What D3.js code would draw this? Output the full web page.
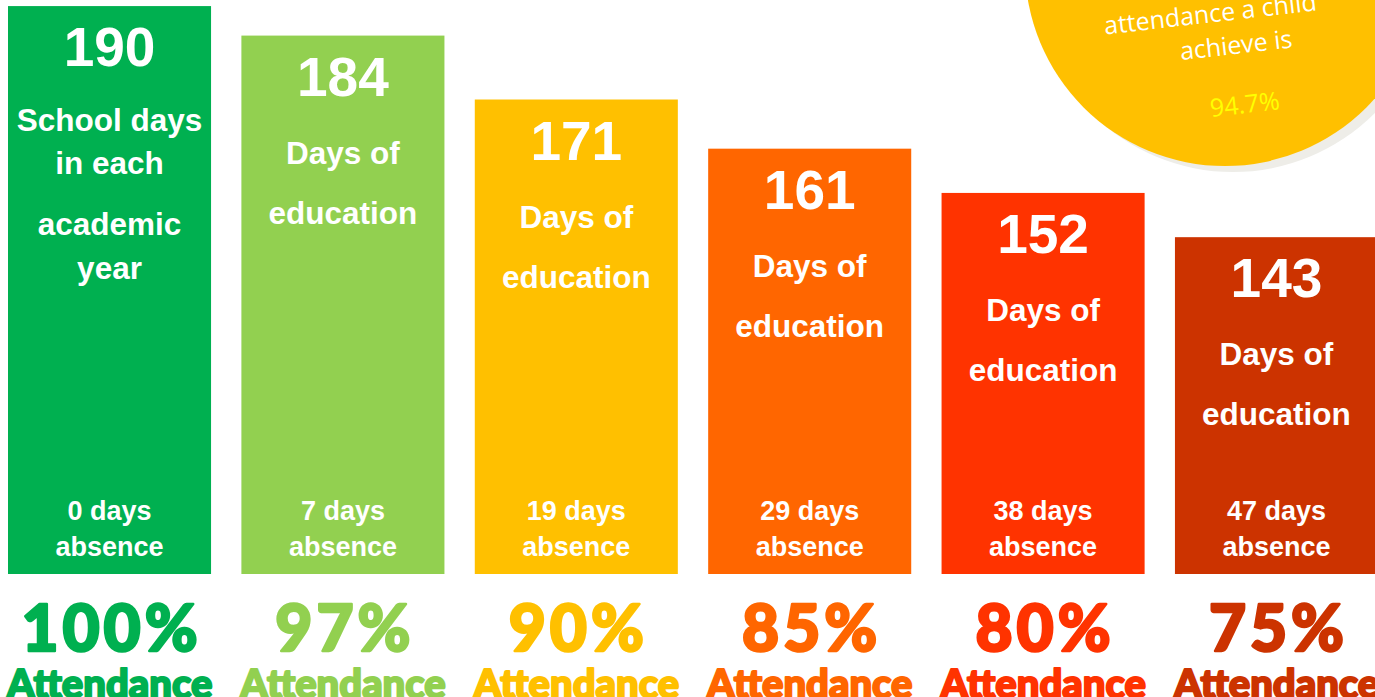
<!DOCTYPE html>
<html>
<head>
<meta charset="utf-8">
<script src="https://cdn.jsdelivr.net/npm/d3@7"></script>
<style>
  html, body { margin: 0; padding: 0; background: #ffffff; overflow: hidden; }
  svg { display: block; }
</style>
</head>
<body>
<svg id="chart" width="1375" height="697"></svg>
<script>
// ---- data ----
const attendance = ["100%", "97%", "90%", "85%", "80%", "75%"];
const educationDays = [190, 184, 171, 161, 152, 143];
const absenceDays = [0, 7, 19, 29, 38, 47];
const barCaptions = [
  ["School days", "in each", "academic", "year"],
  ["Days of", "education"],
  ["Days of", "education"],
  ["Days of", "education"],
  ["Days of", "education"],
  ["Days of", "education"]
];
const barColors = ["#00B050", "#92D050", "#FFC000", "#FF6600", "#FF3300", "#CC3300"];
const calloutLines = ["attendance a child", "achieve is"];
const calloutValue = "94.7%";

// ---- layout ----
const svg = d3.select("#chart");

const x = d3.scaleBand()
  .domain(attendance)
  .range([8, 1378])
  .paddingInner(0.13)
  .paddingOuter(0);

const y = d3.scaleLinear()
  .domain([74.5, 189])
  .range([574, 11]);

// callout circle (top-right)
const cg = svg.append("g");
cg.append("circle")
  .attr("cx", 1233).attr("cy", -28).attr("r", 200)
  .attr("fill", "#EEEDE8");
cg.append("circle")
  .attr("cx", 1225).attr("cy", -34).attr("r", 200)
  .attr("fill", "#FFC000");
const tg = cg.append("g").attr("transform", "translate(1236,45) rotate(-6.5)");
const calloutX = [-22, 0];
const calloutY = [-34, 0];
tg.selectAll("text.cl")
  .data(calloutLines)
  .join("text")
  .attr("class", "cl")
  .attr("x", (d, i) => calloutX[i])
  .attr("y", (d, i) => calloutY[i])
  .attr("dy", "0.35em")
  .attr("text-anchor", "middle")
  .attr("font-family", "'Open Sans', 'Noto Sans', sans-serif")
  .attr("font-size", 25)
  .attr("fill", "#ffffff")
  .text(d => d);
tg.append("text")
  .attr("x", 2).attr("y", 60).attr("dy", "0.35em")
  .attr("text-anchor", "middle")
  .attr("font-family", "'Open Sans', 'Noto Sans', sans-serif")
  .attr("font-size", 25)
  .attr("fill", "#FFFF00")
  .text(calloutValue);

// bars
const bars = svg.append("g").selectAll("g.bar")
  .data(attendance.map((a, i) => ({
    a, days: educationDays[i], abs: absenceDays[i], cap: barCaptions[i], color: barColors[i], i
  })))
  .join("g")
  .attr("class", "bar");

bars.append("rect")
  .attr("x", d => x(d.a))
  .attr("y", d => y(d.days))
  .attr("width", x.bandwidth())
  .attr("height", d => y.range()[0] - y(d.days))
  .attr("fill", d => d.color);

const cx = d => x(d.a) + x.bandwidth() / 2;
const sans = "'Liberation Sans', Arial, Helvetica, sans-serif";

bars.append("text")
  .attr("x", cx)
  .attr("y", d => y(d.days) + 60)
  .attr("text-anchor", "middle")
  .attr("font-family", sans)
  .attr("font-weight", "bold")
  .attr("font-size", 55)
  .attr("fill", "#ffffff")
  .text(d => d.days);

const capOffsets4 = [114, 157, 218, 262];
const capOffsets2 = [117, 177];
bars.each(function (d) {
  const g = d3.select(this);
  const offs = d.cap.length === 4 ? capOffsets4 : capOffsets2;
  g.selectAll("text.cap")
    .data(d.cap)
    .join("text")
    .attr("class", "cap")
    .attr("x", cx(d))
    .attr("y", (t, j) => y(d.days) + offs[j])
    .attr("dy", "0.35em")
    .attr("text-anchor", "middle")
    .attr("font-family", sans)
    .attr("font-weight", "bold")
    .attr("font-size", 31.5)
    .attr("fill", "#ffffff")
    .text(t => t);
});

bars.append("text")
  .attr("x", cx)
  .attr("y", y.range()[0] - 63)
  .attr("dy", "0.35em")
  .attr("text-anchor", "middle")
  .attr("font-family", sans)
  .attr("font-weight", "bold")
  .attr("font-size", 27)
  .attr("fill", "#ffffff")
  .text(d => d.abs + " days");

bars.append("text")
  .attr("x", cx)
  .attr("y", y.range()[0] - 27)
  .attr("dy", "0.35em")
  .attr("text-anchor", "middle")
  .attr("font-family", sans)
  .attr("font-weight", "bold")
  .attr("font-size", 27)
  .attr("fill", "#ffffff")
  .text("absence");

// attendance labels under bars
const chunky = "Lato, 'Open Sans', 'DejaVu Sans', sans-serif";
bars.append("text")
  .attr("x", d => cx(d) + 2)
  .attr("y", 651)
  .attr("text-anchor", "middle")
  .attr("font-family", chunky)
  .attr("font-weight", 900)
  .attr("font-size", 64)
  .attr("letter-spacing", 4)
  .attr("fill", d => d.color)
  .attr("stroke", d => d.color)
  .attr("stroke-width", 2.5)
  .attr("stroke-linejoin", "round")
  .text(d => d.a);

bars.append("text")
  .attr("x", cx)
  .attr("y", 698)
  .attr("text-anchor", "middle")
  .attr("font-family", chunky)
  .attr("font-weight", 900)
  .attr("font-size", 40)
  .attr("fill", d => d.color)
  .attr("stroke", d => d.color)
  .attr("stroke-width", 2)
  .attr("stroke-linejoin", "round")
  .text("Attendance");
</script>
</body>
</html>
